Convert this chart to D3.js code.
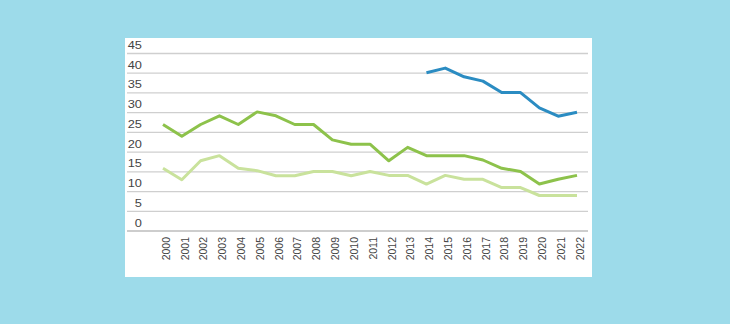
<!DOCTYPE html>
<html lang="en">
<head>
<meta charset="UTF-8">
<title>Series 2000-2022</title>
<style>
  body { margin: 0; background: #9ddbea; }
  svg { display: block; }
</style>
</head>
<body>
<script src="https://cdn.jsdelivr.net/npm/d3@7"></script>
<script>
// data
const years = d3.range(2000, 2023);
const yTicks = [0, 5, 10, 15, 20, 25, 30, 35, 40, 45];
const darkGreen = [27, 24, 27, 29.2, 27, 30.2, 29.2, 27, 27, 23.1, 22, 22, 17.8, 21.2, 19.1, 19.1, 19.1, 18, 15.9, 15.1, 11.9, 13.1, 14.1];
const lightGreen = [15.9, 13, 17.8, 19.1, 15.9, 15.3, 14, 14, 15.1, 15.1, 14, 15.1, 14.1, 14.1, 11.9, 14.1, 13.1, 13.1, 11, 11, 9, 9, 9];
const blueYears = d3.range(2014, 2023);
const blue = [40.1, 41.3, 39.1, 38, 35.1, 35.1, 31.2, 29.1, 30.1];

const W = 730, H = 324;
const svg = d3.select("body").append("svg")
    .attr("width", W).attr("height", H);

// white panel
svg.append("rect")
    .attr("x", 125).attr("y", 38)
    .attr("width", 467).attr("height", 239)
    .attr("fill", "#ffffff");

const x = d3.scalePoint().domain(years).range([163, 577]);
const y = d3.scaleLinear().domain([0, 45]).range([231, 53.5]);

// gridlines
svg.append("g")
  .selectAll("line")
  .data(yTicks.filter(d => d > 0))
  .join("line")
    .attr("x1", 127).attr("x2", 588)
    .attr("y1", d => y(d)).attr("y2", d => y(d))
    .attr("stroke", "#cfcfcf")
    .attr("stroke-width", 1.3);

// baseline
svg.append("line")
    .attr("x1", 127).attr("x2", 588)
    .attr("y1", y(0)).attr("y2", y(0))
    .attr("stroke", "#bdbdbd")
    .attr("stroke-width", 1.3);

// y labels sit just above their gridline
svg.append("g")
  .selectAll("text")
  .data(yTicks)
  .join("text")
    .attr("transform", d => `translate(142,${y(d) - 4.5}) scale(1.22,1)`)
    .attr("text-anchor", "end")
    .attr("font-family", "Liberation Sans, Arial, sans-serif")
    .attr("font-size", 10.5)
    .attr("fill", "#444")
    .text(d => d);

// x labels, rotated
svg.append("g")
  .selectAll("text")
  .data(years)
  .join("text")
    .attr("transform", d => `translate(${x(d) + 3},237) rotate(-90)`)
    .attr("text-anchor", "end")
    .attr("dy", "0.35em")
    .attr("font-family", "Liberation Sans, Arial, sans-serif")
    .attr("font-size", 10.5)
    .attr("fill", "#444")
    .text(d => d);

const line = d3.line()
    .x(d => x(d[0]))
    .y(d => y(d[1]));

function drawSeries(xs, vals, colour) {
  svg.append("path")
      .datum(xs.map((yr, i) => [yr, vals[i]]))
      .attr("fill", "none")
      .attr("stroke", colour)
      .attr("stroke-width", 3)
      .attr("stroke-linejoin", "round")
      .attr("d", line);
}

drawSeries(years, lightGreen, "#c9e29c");
drawSeries(years, darkGreen, "#8dc24b");
drawSeries(blueYears, blue, "#2b8cc2");
</script>
</body>
</html>
